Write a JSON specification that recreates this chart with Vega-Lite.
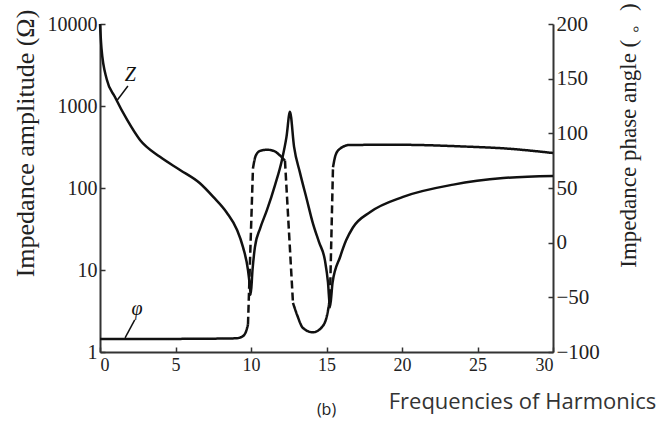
{
  "$schema": "https://vega.github.io/schema/vega-lite/v6.json",
  "width": 453,
  "height": 328,
  "autosize": {"type": "none"},
  "padding": {"left": 100, "top": 24, "right": 105, "bottom": 73},
  "background": "white",
  "view": {"stroke": null},
  "config": {
    "axis": {"grid": false, "domainColor": "#333", "domainWidth": 2, "tickColor": "#333", "tickWidth": 1.5, "labelColor": "#222", "titleColor": "#222"}
  },
  "title": {"text": "(b)", "orient": "bottom", "anchor": "middle", "font": "Open Sans", "fontSize": 16, "fontWeight": "normal", "color": "#222", "offset": -10},
  "datasets": {
    "z": [
      {"x": 0, "z": 10000}, {"x": 0.1, "z": 5000}, {"x": 0.45, "z": 2100}, {"x": 0.99, "z": 1290},
      {"x": 1.8, "z": 675}, {"x": 2.65, "z": 385}, {"x": 3.97, "z": 240}, {"x": 5.3, "z": 166},
      {"x": 6.6, "z": 115}, {"x": 7.5, "z": 78}, {"x": 8.4, "z": 50}, {"x": 9.07, "z": 31},
      {"x": 9.47, "z": 19}, {"x": 9.8, "z": 10}, {"x": 9.92, "z": 6.5}, {"x": 9.98, "z": 5},
      {"x": 10.1, "z": 10}, {"x": 10.26, "z": 19}, {"x": 10.6, "z": 32}, {"x": 11.06, "z": 54},
      {"x": 11.6, "z": 110}, {"x": 12.05, "z": 220}, {"x": 12.35, "z": 420}, {"x": 12.58, "z": 850},
      {"x": 12.85, "z": 320}, {"x": 13.25, "z": 152}, {"x": 13.7, "z": 72}, {"x": 14.1, "z": 37},
      {"x": 14.5, "z": 22}, {"x": 14.9, "z": 13}, {"x": 15.1, "z": 7}, {"x": 15.23, "z": 3.5},
      {"x": 15.4, "z": 7}, {"x": 15.9, "z": 14.4}, {"x": 16.3, "z": 23}, {"x": 16.75, "z": 33},
      {"x": 17.9, "z": 51}, {"x": 20.07, "z": 78}, {"x": 23.4, "z": 110}, {"x": 26.7, "z": 132},
      {"x": 30, "z": 140}
    ],
    "phi": [
      {"seg": "A", "style": "solid", "x": 0, "phi": -88}, {"seg": "A", "style": "solid", "x": 5, "phi": -88},
      {"seg": "A", "style": "solid", "x": 9, "phi": -87.5}, {"seg": "A", "style": "solid", "x": 9.4, "phi": -86},
      {"seg": "A", "style": "solid", "x": 9.65, "phi": -82}, {"seg": "A", "style": "solid", "x": 9.8, "phi": -75},
      {"seg": "B", "style": "dashed", "x": 9.8, "phi": -75}, {"seg": "B", "style": "dashed", "x": 10.13, "phi": 68},
      {"seg": "C", "style": "solid", "x": 10.13, "phi": 68}, {"seg": "C", "style": "solid", "x": 10.3, "phi": 79},
      {"seg": "C", "style": "solid", "x": 10.6, "phi": 84}, {"seg": "C", "style": "solid", "x": 11.06, "phi": 85},
      {"seg": "C", "style": "solid", "x": 11.5, "phi": 84}, {"seg": "C", "style": "solid", "x": 11.9, "phi": 80},
      {"seg": "C", "style": "solid", "x": 12.25, "phi": 75},
      {"seg": "D", "style": "dashed", "x": 12.25, "phi": 75}, {"seg": "D", "style": "dashed", "x": 12.78, "phi": -55},
      {"seg": "E", "style": "solid", "x": 12.78, "phi": -55}, {"seg": "E", "style": "solid", "x": 13.05, "phi": -66},
      {"seg": "E", "style": "solid", "x": 13.44, "phi": -78}, {"seg": "E", "style": "solid", "x": 14.1, "phi": -82},
      {"seg": "E", "style": "solid", "x": 14.77, "phi": -76}, {"seg": "E", "style": "solid", "x": 15.1, "phi": -62},
      {"seg": "E", "style": "solid", "x": 15.23, "phi": -50},
      {"seg": "F", "style": "dashed", "x": 15.23, "phi": -50}, {"seg": "F", "style": "dashed", "x": 15.43, "phi": 69},
      {"seg": "G", "style": "solid", "x": 15.43, "phi": 69}, {"seg": "G", "style": "solid", "x": 15.6, "phi": 80},
      {"seg": "G", "style": "solid", "x": 15.9, "phi": 86}, {"seg": "G", "style": "solid", "x": 16.55, "phi": 89.4},
      {"seg": "G", "style": "solid", "x": 20, "phi": 89.5}, {"seg": "G", "style": "solid", "x": 24, "phi": 88},
      {"seg": "G", "style": "solid", "x": 27, "phi": 86}, {"seg": "G", "style": "solid", "x": 30, "phi": 82}
    ],
    "zlab": [{"x": 2.0, "z": 2390, "label": "Z", "x1": 1.1, "z1": 1150, "x2": 1.85, "z2": 1750}],
    "philab": [{"x": 2.45, "phi": -60.7, "label": "φ", "x1": 1.66, "p1": -87, "x2": 2.3, "p2": -70.7}]
  },
  "layer": [
    {
      "layer": [
        {
          "data": {"name": "z"},
          "mark": {"type": "line", "color": "#111", "strokeWidth": 2.5, "interpolate": "monotone"},
          "encoding": {
            "x": {"field": "x", "type": "quantitative", "scale": {"domain": [0, 30]},
              "axis": {"values": [0, 5, 10, 15, 20, 25, 30], "tickSize": -5, "labelPadding": 9,
                "labelFont": "Liberation Sans Narrow", "labelFontSize": 18,
                "title": "Frequencies of Harmonics", "titleFont": "Open Sans", "titleFontSize": 22, "titleFontWeight": "normal",
                "titleColor": "#333", "titleX": 422, "titleY": 49, "titleAlign": "center", "titleBaseline": "middle"}},
            "y": {"field": "z", "type": "quantitative", "scale": {"type": "log", "domain": [1, 10000]},
              "axis": {"orient": "left", "values": [1, 10, 100, 1000, 10000], "format": "d", "tickSize": -5, "labelPadding": 8,
                "labelFont": "Liberation Serif", "labelFontSize": 20,
                "title": "Impedance amplitude (Ω)", "titleFont": "Liberation Serif", "titleFontSize": 26, "titleFontWeight": "normal",
                "titleX": -75, "titleY": 119, "titleAlign": "center", "titleBaseline": "middle", "titleAngle": 270}}
          }
        },
        {
          "data": {"name": "zlab"},
          "mark": {"type": "text", "font": "Liberation Serif", "fontStyle": "italic", "fontSize": 20, "color": "#111"},
          "encoding": {"x": {"field": "x", "type": "quantitative"}, "y": {"field": "z", "type": "quantitative"}, "text": {"field": "label"}}
        },
        {
          "data": {"name": "zlab"},
          "mark": {"type": "rule", "color": "#111", "strokeWidth": 1.5},
          "encoding": {"x": {"field": "x1", "type": "quantitative"}, "x2": {"field": "x2"}, "y": {"field": "z1", "type": "quantitative"}, "y2": {"field": "z2"}}
        }
      ]
    },
    {
      "layer": [
        {
          "data": {"name": "phi"},
          "mark": {"type": "line", "color": "#111", "strokeWidth": 2.5, "interpolate": "monotone"},
          "encoding": {
            "x": {"field": "x", "type": "quantitative"},
            "y": {"field": "phi", "type": "quantitative", "scale": {"domain": [-100, 200]},
              "axis": {"orient": "right", "values": [-100, -50, 0, 50, 100, 150, 200], "tickSize": -5, "labelPadding": 8,
                "labelFont": "Liberation Sans Narrow", "labelFontSize": 21,
                "title": "Impedance phase angle ( 。)", "titleFont": "Liberation Serif", "titleFontSize": 23, "titleFontWeight": "normal",
                "titleX": 75, "titleY": 111, "titleAlign": "center", "titleBaseline": "middle", "titleAngle": 270}},
            "detail": {"field": "seg"},
            "strokeDash": {"field": "style", "type": "nominal", "scale": {"domain": ["solid", "dashed"], "range": [[1, 0], [8, 4]]}, "legend": null}
          }
        },
        {
          "data": {"name": "philab"},
          "mark": {"type": "text", "font": "Liberation Serif", "fontStyle": "italic", "fontSize": 20, "color": "#111"},
          "encoding": {"x": {"field": "x", "type": "quantitative"}, "y": {"field": "phi", "type": "quantitative"}, "text": {"field": "label"}}
        },
        {
          "data": {"name": "philab"},
          "mark": {"type": "rule", "color": "#111", "strokeWidth": 1.5},
          "encoding": {"x": {"field": "x1", "type": "quantitative"}, "x2": {"field": "x2"}, "y": {"field": "p1", "type": "quantitative"}, "y2": {"field": "p2"}}
        }
      ]
    }
  ],
  "resolve": {"scale": {"y": "independent"}}
}
